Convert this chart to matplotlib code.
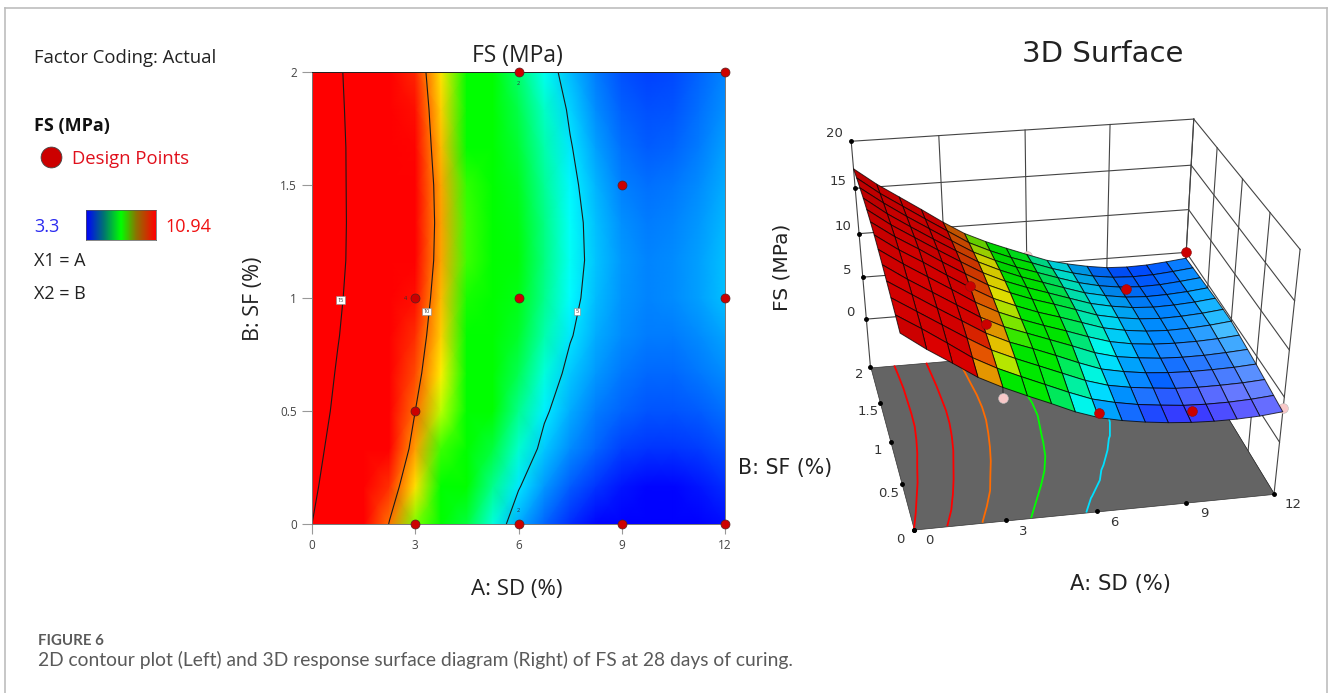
import matplotlib
matplotlib.use("Agg")
import matplotlib.pyplot as plt
from matplotlib.colors import LinearSegmentedColormap, Normalize
from matplotlib.lines import Line2D
from mpl_toolkits.mplot3d import proj3d
import numpy as np

W, H = 1328, 693

# factor levels of the response table
sd_levels = [0, 0.75, 1.5, 2.25, 3, 3.75, 4.5, 5.25, 6, 6.75, 7.5, 8.25, 9, 9.75, 10.5, 11.25, 12]
sf_levels = [0, 1/6, 1/3, 0.5, 2/3, 5/6, 1, 7/6, 4/3, 1.5, 5/3, 11/6, 2]

# FS (MPa), one row per sf level
fs_table = [
    [15.0, 13.2, 11.6, 9.95, 8.7, 7.6, 6.55, 5.45, 4.6, 4.05, 3.65, 3.35, 3.15, 3.05, 3.05, 3.15, 3.4],
    [15.4, 13.85, 12.2, 10.5, 9.2, 8.1, 7.05, 6.0, 5.05, 4.45, 4.0, 3.7, 3.45, 3.35, 3.35, 3.45, 3.65],
    [15.75, 14.2, 12.65, 11.1, 9.65, 8.55, 7.55, 6.55, 5.55, 4.8, 4.35, 4.05, 3.8, 3.7, 3.7, 3.75, 3.9],
    [16.1, 14.55, 13.0, 11.5, 10.0, 8.85, 7.95, 7.0, 6.0, 5.1, 4.6, 4.25, 4.05, 3.95, 3.95, 4.0, 4.15],
    [16.45, 14.8, 13.3, 11.8, 10.3, 9.1, 8.2, 7.3, 6.4, 5.45, 4.8, 4.45, 4.2, 4.1, 4.1, 4.2, 4.35],
    [16.75, 15.1, 13.6, 12.1, 10.55, 9.3, 8.32, 7.45, 6.65, 5.8, 5.05, 4.6, 4.35, 4.25, 4.25, 4.35, 4.55],
    [17.0, 15.3, 13.85, 12.3, 10.8, 9.45, 8.45, 7.55, 6.8, 6.0, 5.2, 4.72, 4.42, 4.3, 4.35, 4.5, 4.75],
    [17.15, 15.45, 14.0, 12.45, 11.0, 9.6, 8.55, 7.65, 6.9, 6.1, 5.28, 4.78, 4.45, 4.3, 4.35, 4.5, 4.75],
    [17.25, 15.5, 14.0, 12.5, 11.05, 9.65, 8.55, 7.65, 6.85, 6.05, 5.26, 4.75, 4.4, 4.25, 4.3, 4.45, 4.7],
    [17.3, 15.5, 13.95, 12.45, 11.0, 9.6, 8.5, 7.55, 6.75, 5.95, 5.17, 4.65, 4.28, 4.15, 4.2, 4.35, 4.6],
    [17.25, 15.5, 13.9, 12.4, 10.9, 9.45, 8.35, 7.4, 6.6, 5.8, 5.05, 4.5, 4.15, 4.0, 4.05, 4.25, 4.5],
    [17.2, 15.4, 13.85, 12.3, 10.8, 9.3, 8.2, 7.25, 6.45, 5.6, 4.9, 4.35, 4.02, 3.9, 3.95, 4.15, 4.4],
    [17.1, 15.3, 13.75, 12.2, 10.6, 9.15, 8.05, 7.1, 6.2, 5.32, 4.72, 4.25, 3.9, 3.8, 3.85, 4.05, 4.3],
]

# design points in the factor plane
point_sd = [3, 6, 9, 12, 3, 3, 6, 12, 9, 6, 12]
point_sf = [0, 0, 0, 0, 0.5, 1, 1, 1, 1.5, 2, 2]

# design points of the 3D panel: above the surface (red), below it (pink)
above_sd = [6, 9, 3, 3, 9, 12]
above_sf = [0, 0, 0.5, 1, 1.5, 2]
above_fs = [5.1, 4.4, 11.0, 11.0, 5.2, 5.0]
below_sd = [3, 12, 6, 6, 12]
below_sf = [0, 0, 1, 2, 1]
below_fs = [7.6, 3.8, 6.5, 6.0, 3.8]
below_top = [8.7, 3.8, 6.8, 6.2, 4.75]

contour_levels = [5, 10, 15]
floor_levels = [5, 7.5, 10, 12.5, 15]
sd_ticks = [0, 3, 6, 9, 12]
sf_ticks = [0, 0.5, 1, 1.5, 2]
sf_tick_labels = ["0", "0.5", "1", "1.5", "2"]
fs_ticks = [0, 5, 10, 15, 20]
fs_low, fs_high = 3.3, 10.94
floor_z = -6

# screen position of known spots of the 3D box, used to set up the camera
camera_world = [(0, 0, -6), (12, 0, -6), (0, 2, -6), (12, 2, -6), (0, 2, 20), (12, 2, 20), (12, 0, 20), (0, 2, 0), (0, 0, 15)]
camera_px = [(914, 530), (1275, 493), (871, 368), (1180, 343), (851, 142), (1195, 119), (1299, 248), (866, 316), (900, 335)]

plt.rcParams['font.family'] = ['Open Sans', 'DejaVu Sans']

surface_cmap = LinearSegmentedColormap.from_list("fs", [
    (0.0, (0, 0, 1)), (0.25, (0, 1, 1)), (0.478, (0, 1, 0)), (0.668, (0, 1, 0)),
    (0.746, (1, 1, 0)), (0.87, (1, 0.45, 0)), (1.0, (1, 0, 0))])
legend_cmap = LinearSegmentedColormap.from_list("fs_legend", [
    (0.0, (0, 0, 1)), (0.25, (0, 0.45, 0.45)), (0.5, (0, 1, 0)), (0.72, (0.55, 0.45, 0)), (1.0, (1, 0, 0))])
norm = Normalize(fs_low, fs_high)

sd_arr = np.array(sd_levels)
sf_arr = np.array(sf_levels)
fs = np.array(fs_table)
SD, SF = np.meshgrid(sd_arr, sf_arr)

fig = plt.figure(figsize=(W / 100, H / 100), dpi=100, facecolor='white')


def put_text(x, y, s, **kw):
    kw.setdefault('va', 'center')
    return fig.text(x / W, 1 - y / H, s, **kw)


def px_rect(x0, y0, x1, y1):
    return [x0 / W, 1 - y1 / H, (x1 - x0) / W, (y1 - y0) / H]


# page frame
frame = dict(color='#bdbdbd', lw=1.2)
fig.add_artist(Line2D([4.5 / W, 4.5 / W], [0, 1 - 7.5 / H], **frame))
fig.add_artist(Line2D([4.5 / W, 1327 / W], [1 - 7.5 / H, 1 - 7.5 / H], **frame))
fig.add_artist(Line2D([1327 / W, 1327 / W], [0, 1 - 7.5 / H], **frame))

# left hand legend
put_text(34, 58, "Factor Coding: Actual", fontsize=13.3, color='#222222')
put_text(34, 126, "FS (MPa)", fontsize=13, fontweight='bold', color='#111111')
put_text(72, 159, "Design Points", fontsize=13.3, color='#e0101c')
fig.add_artist(Line2D([51 / W], [1 - 157 / H], marker='o', ms=15, mfc='#cc0000', mec='#444444', mew=0.6))
put_text(34, 227, "3.3", fontsize=13, color='#2a2af0')
put_text(165, 227, "10.94", fontsize=13, color='#f01010')
put_text(34, 261, "X1 = A", fontsize=13, color='#222222')
put_text(34, 294, "X2 = B", fontsize=13, color='#222222')

ax_bar = fig.add_axes(px_rect(86, 210, 156, 240))
ax_bar.imshow(np.linspace(fs_low, fs_high, 200)[None, :], aspect='auto', cmap=legend_cmap, norm=norm)
ax_bar.set_xticks([])
ax_bar.set_yticks([])
for s in ax_bar.spines.values():
    s.set_linewidth(0.5)
    s.set_color('#555555')

# contour panel
ax = fig.add_axes(px_rect(312, 72, 725, 524))
ax.pcolormesh(SD, SF, fs, cmap=surface_cmap, norm=norm, shading='gouraud')
ax.contour(SD, SF, fs, levels=contour_levels, colors='#1a1a1a', linewidths=0.8)
ax.scatter(point_sd, point_sf, s=42, c='#cc0000', edgecolors='#552222', linewidths=0.5, zorder=5, clip_on=False)
ax.set_xlim(0, 12)
ax.set_ylim(0, 2)
ax.set_xticks(sd_ticks)
ax.set_yticks(sf_ticks)
ax.set_yticklabels(sf_tick_labels)
ax.tick_params(length=7, width=0.8, color='#999999', labelcolor='#444444', labelsize=8.5, pad=4)
for s in ax.spines.values():
    s.set_linewidth(0.7)
    s.set_color('#777777')
ax.spines['top'].set_color('#222222')

label_box = dict(boxstyle='square,pad=0.25', fc='white', ec='#888888', lw=0.4)
ax.text(0.83, 0.99, "15", fontsize=4, ha='center', va='center', bbox=label_box, color='#333333', zorder=6)
ax.text(3.34, 0.94, "10", fontsize=4, ha='center', va='center', bbox=label_box, color='#333333', zorder=6)
ax.text(7.7, 0.94, "5", fontsize=4, ha='center', va='center', bbox=label_box, color='#333333', zorder=6)
ax.text(2.73, 1, "4", fontsize=4, ha='center', va='center', color='#333333', zorder=6)
ax.text(6, 1.95, "2", fontsize=4, ha='center', va='center', color='#333333', zorder=6)
ax.text(6, 0.06, "2", fontsize=4, ha='center', va='center', color='#333333', zorder=6)

put_text(517, 56, "FS (MPa)", fontsize=16.5, ha='center', color='#222222')
put_text(517, 590, "A: SD (%)", fontsize=16, ha='center', color='#222222')
put_text(253, 299, "B: SF (%)", fontsize=15.5, ha='center', rotation=90, color='#222222')

# 3D panel, the projection is fitted to the box corners
ax3 = fig.add_axes(px_rect(790, 60, 1320, 590), projection='3d')
ax3.patch.set_alpha(0)
ax3.set_axis_off()
ax3.set_proj_type('ortho')
ax3.computed_zorder = False


def get_camera():
    inv = ax3.transData.inverted()
    uv = inv.transform([(x, H - y) for x, y in camera_px])
    rows, rhs = [], []
    for (X, Y, Z), (u, v) in zip(camera_world, uv):
        rows.append([X, Y, Z, 1, 0, 0, 0, 0, -u * X, -u * Y, -u * Z])
        rhs.append(u)
        rows.append([0, 0, 0, 0, X, Y, Z, 1, -v * X, -v * Y, -v * Z])
        rhs.append(v)
    p = np.linalg.lstsq(np.array(rows), np.array(rhs), rcond=None)[0]
    depth = [0.04, 0.25, -0.01, 0.0]
    return np.array([p[:4], p[4:8], depth, [p[8], p[9], p[10], 1.0]])


ax3.get_proj = get_camera

ax3.plot_surface(np.array([[0, 12], [0, 12]]), np.array([[0, 0], [2, 2]]), np.full((2, 2), floor_z),
                 color='#646464', shade=False, edgecolor='#333333', linewidth=0.5, zorder=1)
ax3.contour(SD, SF, fs, levels=floor_levels, zdir='z', offset=floor_z, cmap=surface_cmap, norm=norm,
            linewidths=1.3, zorder=2)

# box grid
grid = dict(color='#444444', lw=0.8, zorder=0)
top_z = fs_ticks[-1]
for a in sd_ticks:
    ax3.plot([a, a], [2, 2], [floor_z, top_z], **grid)
for b in sf_ticks:
    ax3.plot([12, 12], [b, b], [floor_z, top_z], **grid)
for z in fs_ticks:
    ax3.plot([0, 12], [2, 2], [z, z], **grid)
    ax3.plot([12, 12], [0, 2], [z, z], **grid)
ax3.plot([12, 12], [0, 2], [floor_z, floor_z], **grid)

# surface, faces are lit a little so the steep end goes darker
cell_fs = (fs[:-1, :-1] + fs[1:, :-1] + fs[:-1, 1:] + fs[1:, 1:]) / 4
d_sd = (fs[:-1, 1:] - fs[:-1, :-1]) / np.diff(sd_arr)[None, :] * 12 / 25
d_sf = (fs[1:, :-1] - fs[:-1, :-1]) / np.diff(sf_arr)[:, None] * 2 / 25
lit = (0.35 * d_sd + 0.75 * d_sf + 0.55) / np.sqrt(d_sd ** 2 + d_sf ** 2 + 1) - 0.55
faces = surface_cmap(norm(cell_fs))
faces[..., :3] *= (1 + 0.55 * np.minimum(lit, 0))[..., None]
white = np.clip(lit * 3, 0, 0.4)[..., None]
faces[..., :3] = faces[..., :3] * (1 - white) + white
surf = ax3.plot_surface(SD, SF, fs, facecolors=faces, rstride=1, cstride=1, shade=False, zorder=4)
surf.set_edgecolor((0, 0, 0, 0.75))
surf.set_linewidth(0.7)

# points
for a, b, low, top in zip(below_sd, below_sf, below_fs, below_top):
    ax3.plot([a, a], [b, b], [low, top], color='#333333', lw=0.9, zorder=3)
ax3.scatter(below_sd, below_sf, below_fs, s=50, c='#f8c8c8', edgecolors='#bbbbbb', linewidths=0.4,
            depthshade=False, zorder=3)
ax3.scatter(above_sd, above_sf, above_fs, s=50, c='#cc0000', edgecolors='#881111', linewidths=0.4,
            depthshade=False, zorder=5)

# ticks and labels of the box
dots = dict(ls='none', marker='o', ms=2.5, color='black', zorder=6)
ax3.plot(sd_ticks, [0] * 5, [floor_z] * 5, **dots)
ax3.plot([0] * 5, sf_ticks, [floor_z] * 5, **dots)
ax3.plot([0] * 5, [2] * 5, fs_ticks, **dots)

ax3.apply_aspect()
cam = get_camera()


def tick_label(x, y, z, s):
    u, v, _ = proj3d.proj_transform(x, y, z, cam)
    ax3.text2D(u, v, s, transform=ax3.transData, fontsize=9.5, family='DejaVu Sans', color='#333333',
               ha='center', va='center', zorder=6)


for a in sd_ticks:
    tick_label(a + 0.4, -0.13, floor_z, str(a))
for b, lab in zip(sf_ticks, sf_tick_labels):
    tick_label(-0.5, b - 0.09, floor_z, lab)
for z in fs_ticks:
    tick_label(-0.55, 2, z + 0.9, str(z))

font3d = dict(family='DejaVu Sans', color='#222222', ha='center')
put_text(1103, 54, "3D Surface", fontsize=21, **font3d)
put_text(782, 267, "FS (MPa)", fontsize=14.5, rotation=90, **font3d)
put_text(785, 468, "B: SF (%)", fontsize=14.8, **font3d)
put_text(1121, 584, "A: SD (%)", fontsize=15.2, **font3d)

# caption
put_text(38, 641, "FIGURE 6", fontsize=10.8, family='Lato', fontweight='bold', color='#5a5a5a')
put_text(38, 660, "2D contour plot (Left) and 3D response surface diagram (Right) of FS at 28 days of curing.",
         fontsize=13.9, family='Lato', color='#5a5a5a')

fig.savefig("out.png", dpi=100)
